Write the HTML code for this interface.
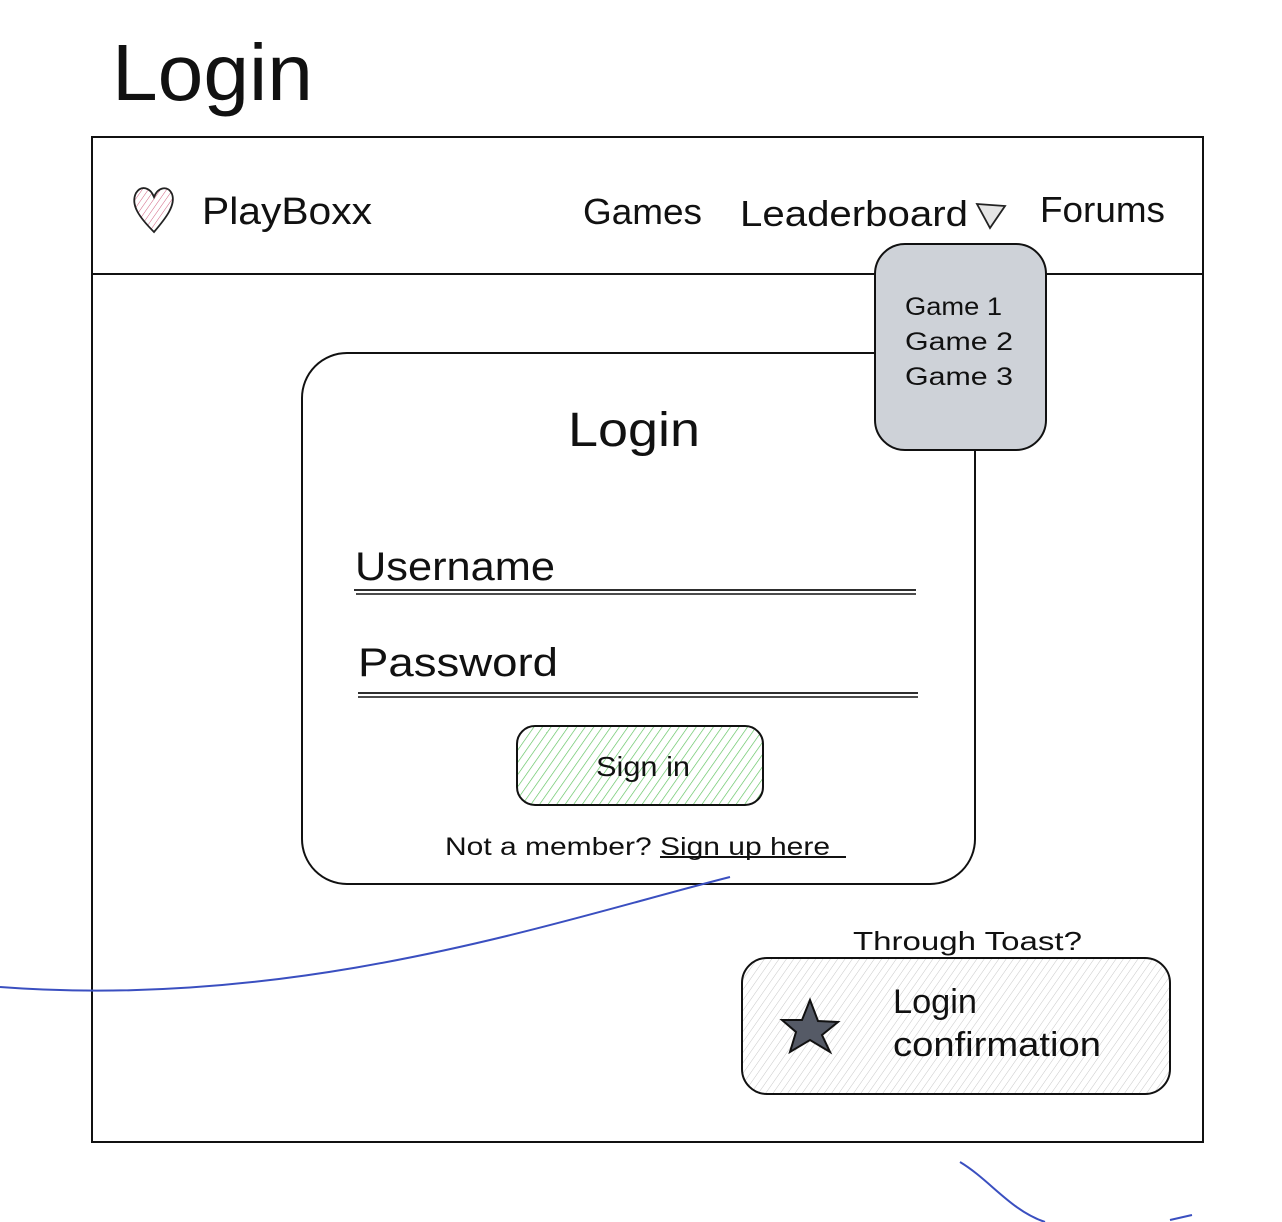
<!DOCTYPE html>
<html><head><meta charset="utf-8"><style>
html,body{margin:0;padding:0;background:#fff;}
svg{display:block}
text{font-family:"Liberation Sans",sans-serif;fill:#111;}
</style></head><body>
<svg width="1282" height="1222" viewBox="0 0 1282 1222" xmlns="http://www.w3.org/2000/svg">
<defs>
<pattern id="hg" width="7" height="7" patternUnits="userSpaceOnUse" patternTransform="rotate(35)">
<line x1="0" y1="0" x2="0" y2="7" stroke="#5bc25b" stroke-width="1.3"/></pattern>
<pattern id="hgr" width="6" height="6" patternUnits="userSpaceOnUse" patternTransform="rotate(35)">
<line x1="0" y1="0" x2="0" y2="6" stroke="#c8c8c8" stroke-width="1"/></pattern>
<pattern id="hr" width="5" height="5" patternUnits="userSpaceOnUse" patternTransform="rotate(35)">
<line x1="0" y1="0" x2="0" y2="5" stroke="#d06080" stroke-width="1"/></pattern>
</defs>
<text x="112" y="100" font-size="80" textLength="201" lengthAdjust="spacingAndGlyphs">Login</text>
<rect x="92" y="137" width="1111" height="1005" fill="none" stroke="#111" stroke-width="2"/>
<line x1="92" y1="274" x2="1203" y2="274" stroke="#111" stroke-width="2"/>
<path d="M154 232 C140 218 130 205 136 193 C141 185 150 187 154 197 C158 187 168 185 172 194 C176 205 166 218 154 232 Z" fill="url(#hr)" stroke="#222" stroke-width="1.8"/>
<text x="202" y="224" font-size="38" textLength="170" lengthAdjust="spacingAndGlyphs">PlayBoxx</text>
<text x="583" y="224" font-size="36" textLength="119" lengthAdjust="spacingAndGlyphs">Games</text>
<text x="740" y="226" font-size="36" textLength="228" lengthAdjust="spacingAndGlyphs">Leaderboard</text>
<path d="M977 204 L1005 206 L990 228 Z" fill="#e5e5e5" stroke="#222" stroke-width="1.8"/>
<text x="1040" y="222" font-size="36" textLength="125" lengthAdjust="spacingAndGlyphs">Forums</text>
<rect x="302" y="353" width="673" height="531" rx="45" fill="#fff" stroke="#111" stroke-width="2"/>
<rect x="875" y="244" width="171" height="206" rx="30" fill="#ced2d8" stroke="#111" stroke-width="2"/>
<text x="905" y="315" font-size="25" textLength="97" lengthAdjust="spacingAndGlyphs">Game 1</text>
<text x="905" y="350" font-size="25" textLength="108" lengthAdjust="spacingAndGlyphs">Game 2</text>
<text x="905" y="385" font-size="25" textLength="108" lengthAdjust="spacingAndGlyphs">Game 3</text>
<text x="568" y="446" font-size="48" textLength="132" lengthAdjust="spacingAndGlyphs">Login</text>
<text x="355" y="580" font-size="40" textLength="200" lengthAdjust="spacingAndGlyphs">Username</text>
<line x1="354" y1="590" x2="916" y2="590" stroke="#111" stroke-width="1.8"/>
<line x1="356" y1="594" x2="916" y2="594" stroke="#111" stroke-width="1.4"/>
<text x="358" y="676" font-size="40" textLength="200" lengthAdjust="spacingAndGlyphs">Password</text>
<line x1="358" y1="693" x2="918" y2="693" stroke="#111" stroke-width="1.8"/>
<line x1="358" y1="697" x2="918" y2="697" stroke="#111" stroke-width="1.4"/>
<rect x="517" y="726" width="246" height="79" rx="18" fill="url(#hg)" stroke="#111" stroke-width="2"/>
<text x="596" y="776" font-size="28" textLength="94" lengthAdjust="spacingAndGlyphs">Sign in</text>
<text x="445" y="855" font-size="25" textLength="385" lengthAdjust="spacingAndGlyphs">Not a member? Sign up here</text>
<line x1="660" y1="857" x2="846" y2="857" stroke="#111" stroke-width="2"/>
<path d="M730 877 C560 920 300 1010 0 987" fill="none" stroke="#3a4fc0" stroke-width="2"/>
<text x="853" y="950" font-size="26" textLength="229" lengthAdjust="spacingAndGlyphs">Through Toast?</text>
<rect x="742" y="958" width="428" height="136" rx="25" fill="url(#hgr)" stroke="#111" stroke-width="2"/>
<path d="M810 1000 L818 1021 L838 1022 L822 1035 L830 1052 L810 1040 L790 1052 L796 1032 L782 1020 L802 1020 Z" fill="#555a66" stroke="#111" stroke-width="2"/>
<text x="893" y="1013" font-size="34" textLength="84" lengthAdjust="spacingAndGlyphs">Login</text>
<text x="893" y="1056" font-size="34" textLength="208" lengthAdjust="spacingAndGlyphs">confirmation</text>
<path d="M960 1162 C990 1180 1010 1210 1045 1222" fill="none" stroke="#3a4fc0" stroke-width="2"/>
<path d="M1170 1220 L1192 1215" fill="none" stroke="#3a4fc0" stroke-width="2"/>
</svg>
</body></html>
